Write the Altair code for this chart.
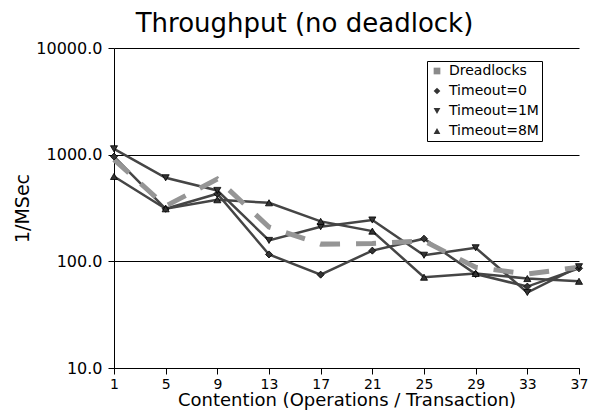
import altair as alt
import pandas as pd

xs = [1, 5, 9, 13, 17, 21, 25, 29, 33, 37]
series_names = ["Dreadlocks", "Timeout=0", "Timeout=1M", "Timeout=8M"]
dreadlocks = [900, 330, 590, 210, 145, 147, 155, 88, 76, 88]
timeout_0 = [960, 311, 430, 116, 75, 126, 163, 76, 58, 86]
timeout_1m = [1135, 607, 462, 157, 211, 244, 114, 134, 51, 89]
timeout_8m = [625, 311, 378, 354, 237, 192, 71, 77, 69, 65]
y_ticks = [10, 100, 1000, 10000]

rows = []
for name, vals in zip(series_names, [dreadlocks, timeout_0, timeout_1m, timeout_8m]):
    for x, v in zip(xs, vals):
        rows.append({"series": name, "x": x, "y": v})
df = pd.DataFrame(rows)

FONT = "DejaVu Sans"

xenc = alt.X(
    "x:Q",
    scale=alt.Scale(domain=[1, 37], nice=False, zero=False),
    axis=alt.Axis(values=xs, title="Contention (Operations / Transaction)", grid=False,
                  labelFontSize=14, titleFontSize=18, titleFontWeight="normal",
                  tickSize=6, labelPadding=3, titlePadding=0, labelFlush=False),
)
yenc = alt.Y(
    "y:Q",
    scale=alt.Scale(type="log", domain=[10, 10000], nice=False),
    axis=alt.Axis(values=y_ticks, format=".1f", title="1/MSec", grid=True,
                  gridColor="black", gridOpacity=1, gridWidth=1,
                  labelFontSize=16, titleFontSize=19, titleFontWeight="normal",
                  tickSize=6, labelPadding=6, titleX=-82, titleY=160),
)

base = alt.Chart(df)

lines = base.transform_filter(alt.datum.series != "Dreadlocks").mark_line(
    color="#454545", strokeWidth=2.5
).encode(x=xenc, y=yenc, detail="series:N")

dread = base.transform_filter(alt.datum.series == "Dreadlocks").mark_line(
    color="#959595", strokeWidth=5, strokeDash=[20, 16]
).encode(x=xenc, y=yenc)

pts = base.transform_filter(alt.datum.series != "Dreadlocks").mark_point(
    filled=True, size=50, stroke="black", strokeWidth=0.8, opacity=1
).encode(
    x=xenc,
    y=yenc,
    shape=alt.Shape("series:N", scale=alt.Scale(domain=series_names,
                    range=["square", "diamond", "triangle-down", "triangle-up"]),
                    legend=alt.Legend(title=None)),
    fill=alt.Fill("series:N", scale=alt.Scale(domain=series_names,
                  range=["#8a8a8a", "#333333", "#333333", "#333333"]),
                  legend=alt.Legend(title=None)),
)

chart = alt.layer(lines, dread, pts).properties(
    width=465,
    height=320,
    title=alt.TitleParams("Throughput (no deadlock)", fontSize=26, fontWeight="normal",
                          font=FONT, color="black", anchor="middle", dx=-42, offset=3),
    autosize=alt.AutoSizeParams(type="none"),
    padding={"left": 106, "top": 40, "right": 10, "bottom": 43},
).configure(font=FONT).configure_view(stroke=None).configure_axis(
    domainColor="black", tickColor="black", labelColor="black", titleColor="black",
    labelFont=FONT, titleFont=FONT, domainWidth=1,
).configure_legend(
    orient="none", legendX=313, legendY=13, strokeColor="black", fillColor="white",
    padding=3, labelFontSize=14, labelFont=FONT, labelColor="black", labelOffset=5,
    symbolStrokeColor="black", symbolStrokeWidth=1, symbolSize=45, rowPadding=6,
    symbolType="square",
)

chart.save("out.html", embed_options={"renderer": "svg", "actions": False})
